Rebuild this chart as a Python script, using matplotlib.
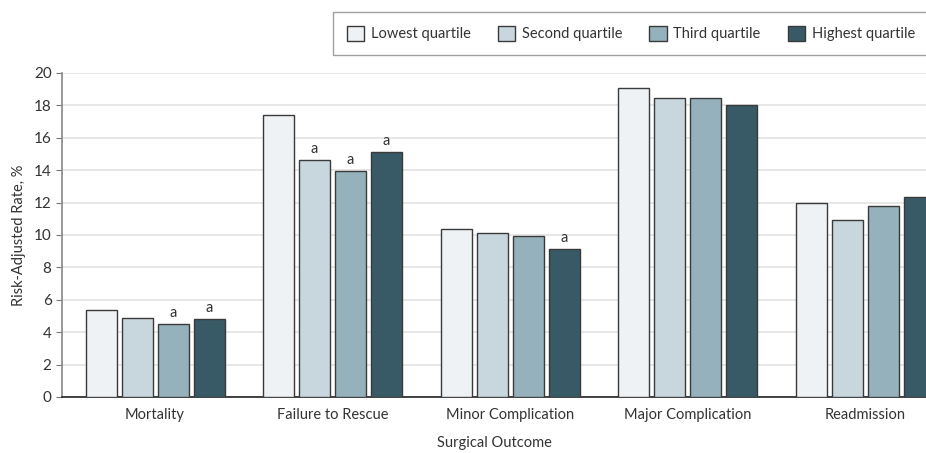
import matplotlib.pyplot as plt
import numpy as np

plt.rcParams["font.family"] = ["Lato", "DejaVu Sans"]

# Data
outcomes = ["Mortality", "Failure to Rescue", "Minor Complication", "Major Complication", "Readmission"]
quartiles = ["Lowest quartile", "Second quartile", "Third quartile", "Highest quartile"]
lowest = [5.35, 17.4, 10.37, 19.05, 12.0]
second = [4.86, 14.6, 10.1, 18.45, 10.9]
third = [4.49, 13.93, 9.96, 18.45, 11.77]
highest = [4.80, 15.1, 9.15, 18.04, 12.35]
# "a" marker: significant vs lowest quartile
sig_second = [False, True, False, False, False]
sig_third = [True, True, False, False, False]
sig_highest = [True, True, True, False, False]

colors = ["#EEF2F5", "#C8D7DE", "#94B1BC", "#375A66"]
series = [lowest, second, third, highest]
sig_flags = [[False] * 5, sig_second, sig_third, sig_highest]

fig = plt.figure(figsize=(9.26, 4.53), dpi=100)
ax = fig.add_axes([62 / 926, 1 - 397 / 453, 1 - 62 / 926, (397 - 73) / 453])

x = np.arange(len(outcomes))
width = 0.175
step = 0.2027
for i, (vals, col, sig) in enumerate(zip(series, colors, sig_flags)):
    pos = x + (i - 1.5) * step
    ax.bar(pos, vals, width=width, color=col, edgecolor="#3a3a3a", linewidth=1.0,
           label=quartiles[i], zorder=3)
    for p, v, s in zip(pos, vals, sig):
        if s:
            ax.text(p, v + 0.25, "a", ha="center", va="bottom", fontsize=10.5, color="#333333")

ax.set_xlim(-0.524, 4.341)
ax.set_ylim(0, 20)
ax.set_yticks(np.arange(0, 21, 2))
ax.set_xticks(x)
ax.set_xticklabels(outcomes, fontsize=10.5, color="#333333")
ax.tick_params(axis="x", length=0, pad=8)
ax.tick_params(axis="y", labelsize=11, length=4, color="#777777", labelcolor="#333333")
ax.yaxis.grid(True, color="#e3e3e3", linewidth=1.2, zorder=0)
ax.set_axisbelow(True)
for side in ["top", "right"]:
    ax.spines[side].set_visible(False)
ax.spines["left"].set_color("#888888")
ax.spines["left"].set_linewidth(1.2)
ax.spines["bottom"].set_color("#222222")
ax.spines["bottom"].set_linewidth(1.2)
ax.set_xlabel("Surgical Outcome", fontsize=10.5, color="#333333", labelpad=10)
ax.set_ylabel("Risk-Adjusted Rate, %", fontsize=10.5, color="#333333", labelpad=6)

leg = fig.legend(loc="upper left", bbox_to_anchor=(333 / 926, 1 - 12 / 453), ncol=4,
                 frameon=True, fancybox=False, edgecolor="#888888", fontsize=10.5,
                 handlelength=1.2, handleheight=1.2, handletextpad=0.45,
                 columnspacing=1.85, borderpad=0.95, borderaxespad=0)
leg.get_frame().set_linewidth(1.0)
for t in leg.get_texts():
    t.set_color("#333333")

fig.savefig("out.png", dpi=100)
